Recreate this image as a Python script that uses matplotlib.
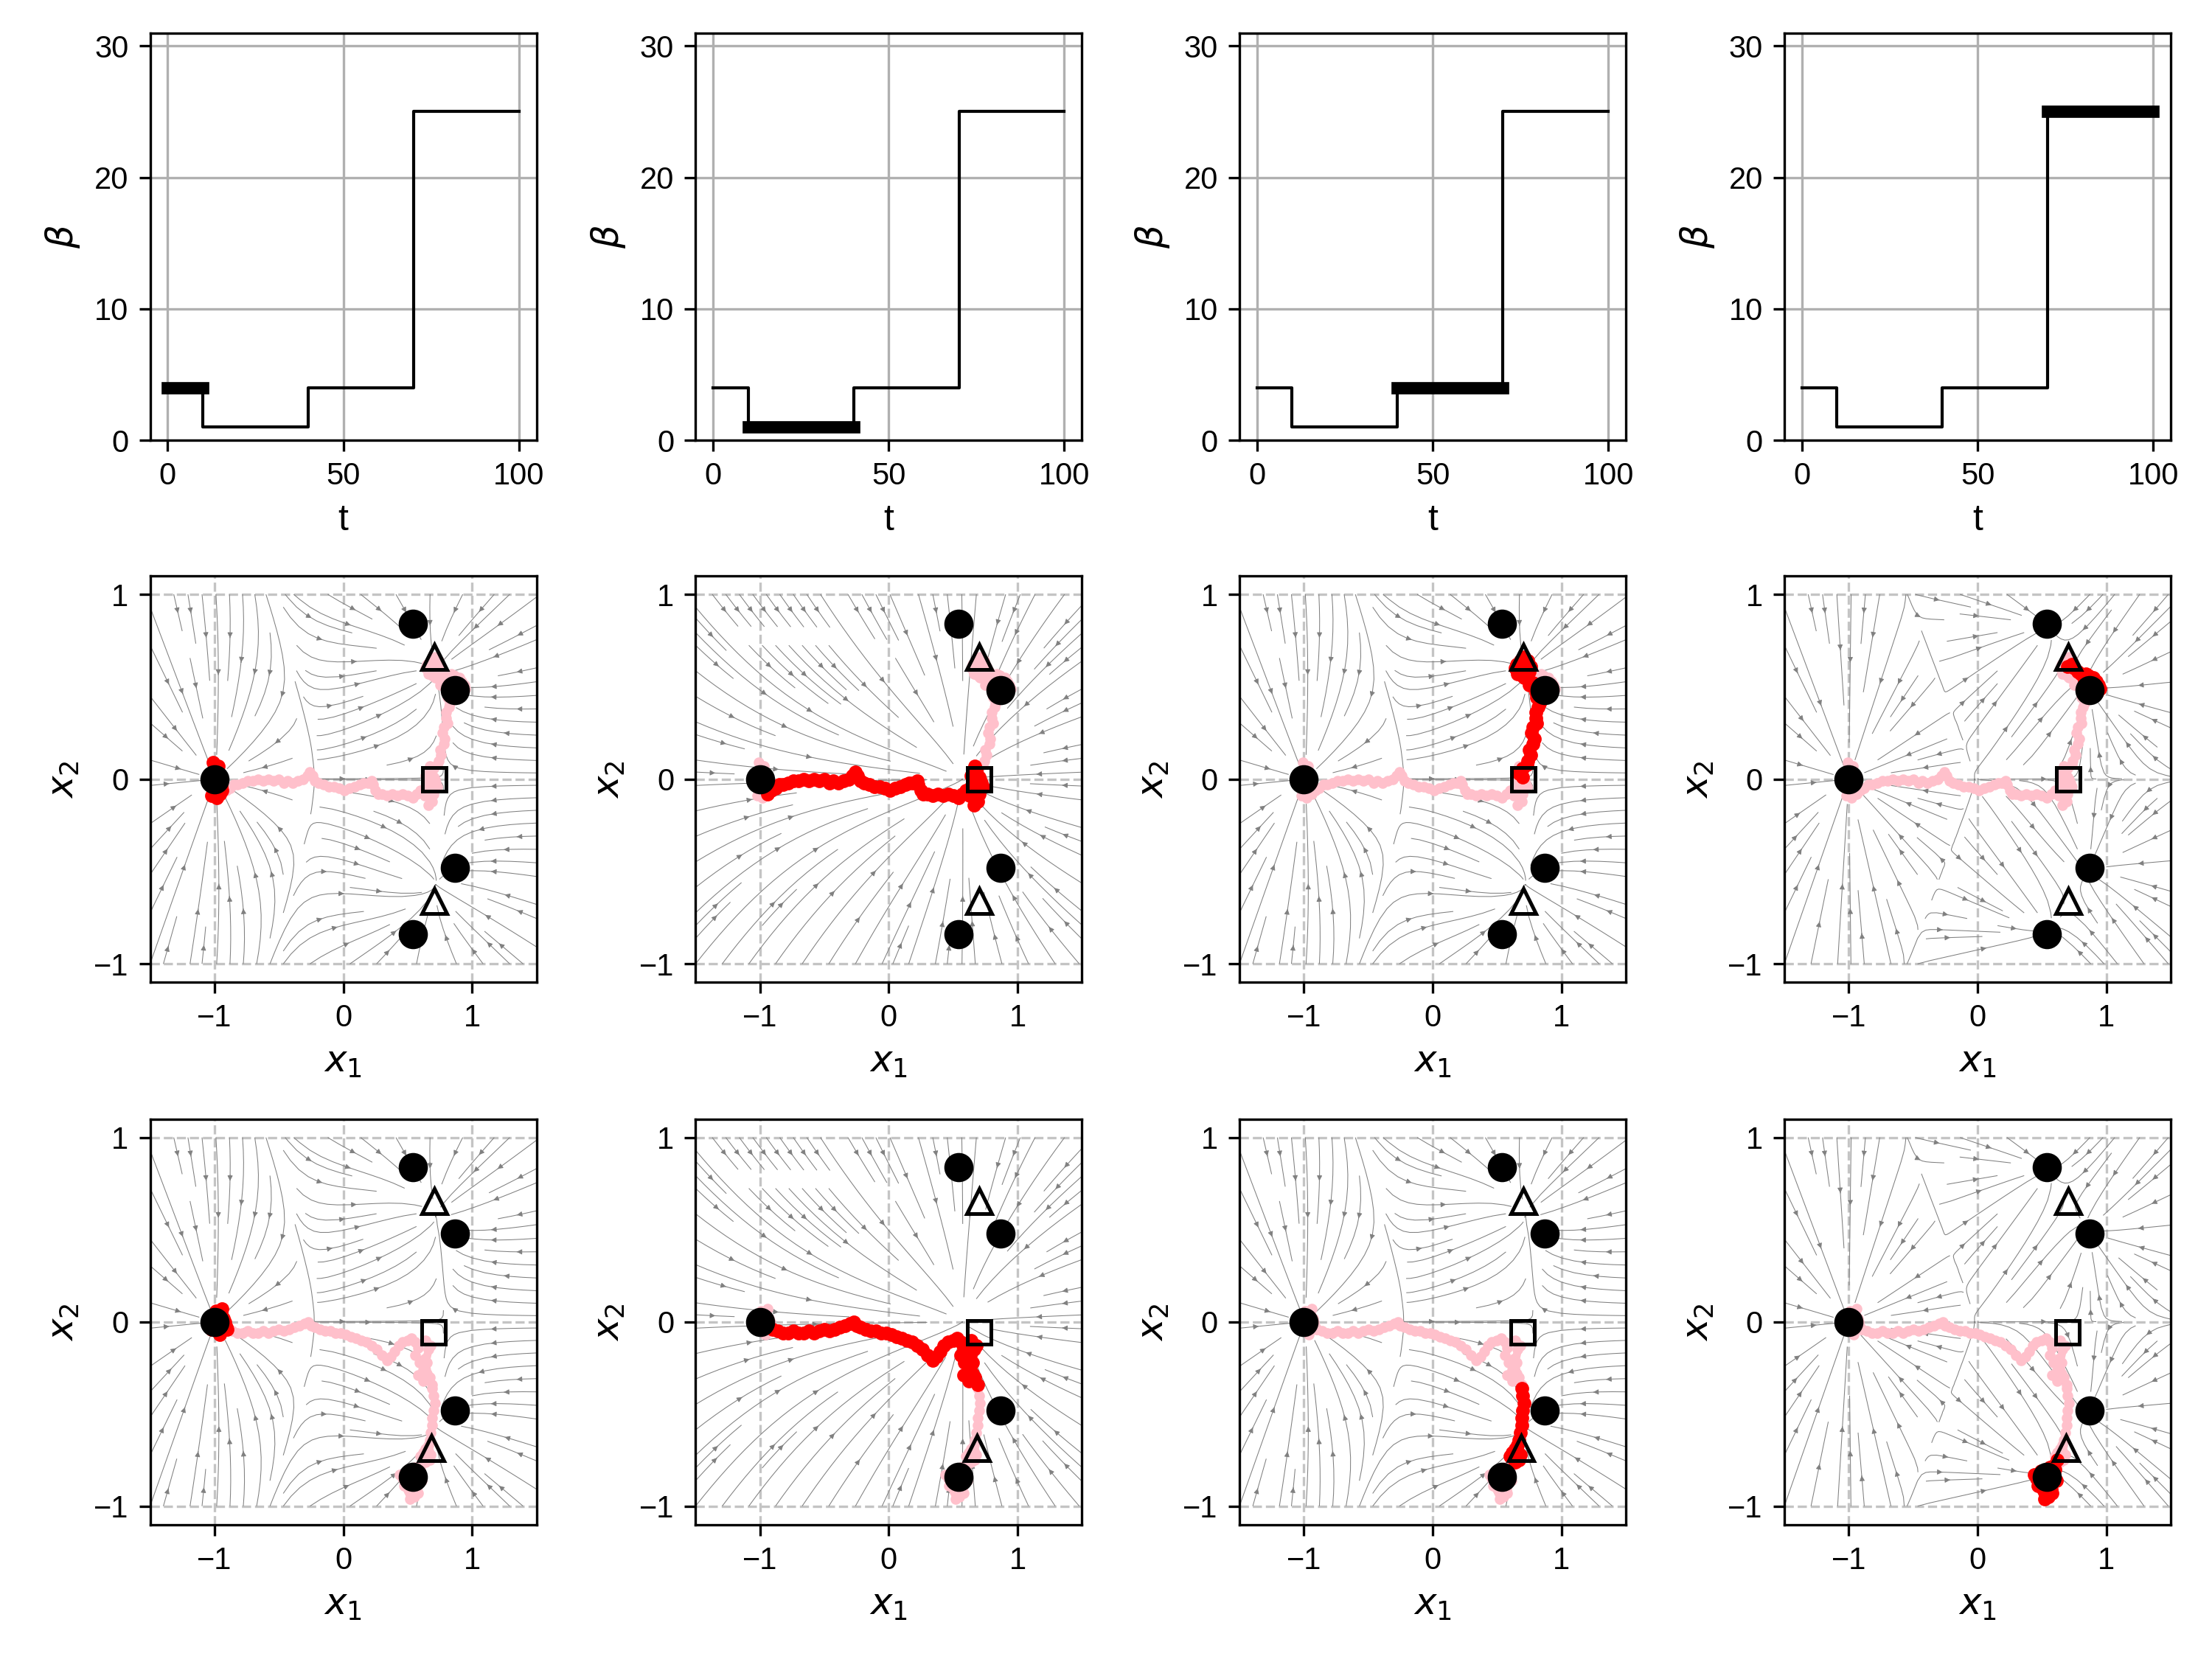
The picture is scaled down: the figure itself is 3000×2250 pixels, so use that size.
import numpy as np
import matplotlib
matplotlib.use("Agg")
import matplotlib.pyplot as plt

plt.rcParams['font.family'] = ['Liberation Sans', 'DejaVu Sans']
plt.rcParams['mathtext.fontset'] = 'dejavusans'
plt.rcParams['font.size'] = 10

# beta schedule
t_edges = [0, 10, 40, 70, 100]
beta_vals = [4, 1, 4, 25]

# stored patterns (circles) and saddle markers
pat_x = [-1.0, 0.54, 0.87, 0.87, 0.54]
pat_y = [0.0, 0.84, 0.48, -0.48, -0.84]
tri_mid_x = [0.705, 0.705]
tri_mid_y = [0.66, -0.66]
sq_mid = [0.705, 0.0]
tri_bot_x = [0.705, 0.685]
tri_bot_y = [0.655, -0.685]
sq_bot = [0.70, -0.057]

# trajectory, middle row, one block per beta window
mid_seg0 = np.array([
    (-1.00, 0.00), (-0.98, 0.04), (-1.02, -0.03), (-0.97, 0.07), (-1.01, 0.09),
    (-0.99, -0.06), (-0.96, -0.08), (-1.03, 0.02), (-0.98, -0.10), (-1.00, 0.05),
    (-0.95, -0.04), (-0.97, -0.07), (-1.02, -0.09), (-0.94, -0.06)])
mid_seg1 = np.array([
    (-0.94, -0.08), (-0.91, -0.06), (-0.88, -0.05), (-0.85, -0.03), (-0.82, -0.03),
    (-0.78, -0.02), (-0.74, -0.01), (-0.70, -0.01), (-0.66, 0.00), (-0.62, -0.01),
    (-0.58, 0.00), (-0.54, -0.01), (-0.50, 0.00), (-0.46, -0.02), (-0.43, -0.01),
    (-0.39, -0.02), (-0.35, -0.01), (-0.31, 0.00), (-0.28, 0.02), (-0.26, 0.04),
    (-0.24, 0.02), (-0.22, -0.01), (-0.19, -0.02), (-0.15, -0.03), (-0.11, -0.04),
    (-0.07, -0.04), (-0.03, -0.05), (0.01, -0.06), (0.05, -0.05), (0.09, -0.04),
    (0.13, -0.03), (0.16, -0.02), (0.19, -0.02), (0.22, -0.01), (0.23, -0.03),
    (0.25, -0.06), (0.27, -0.08), (0.30, -0.08), (0.34, -0.09), (0.38, -0.08),
    (0.42, -0.09), (0.46, -0.08), (0.50, -0.09), (0.54, -0.10), (0.57, -0.08),
    (0.60, -0.06), (0.63, -0.09), (0.66, -0.05), (0.64, 0.02), (0.68, 0.05),
    (0.71, 0.00), (0.66, -0.03), (0.62, -0.06), (0.69, -0.12), (0.73, -0.04),
    (0.67, 0.07), (0.65, 0.03), (0.70, -0.08), (0.72, -0.02), (0.66, -0.14),
    (0.68, 0.04), (0.64, -0.04), (0.70, 0.01)])
mid_seg2 = np.array([
    (0.70, 0.01), (0.67, 0.03), (0.70, 0.06), (0.73, 0.08), (0.74, 0.10),
    (0.76, 0.13), (0.75, 0.16), (0.78, 0.19), (0.79, 0.22), (0.77, 0.25),
    (0.78, 0.28), (0.81, 0.30), (0.80, 0.33), (0.80, 0.36), (0.82, 0.39),
    (0.83, 0.41), (0.81, 0.44), (0.80, 0.47), (0.79, 0.50), (0.78, 0.52),
    (0.75, 0.51), (0.74, 0.54), (0.72, 0.57), (0.70, 0.59), (0.67, 0.60),
    (0.65, 0.62), (0.68, 0.64), (0.71, 0.66), (0.74, 0.64), (0.76, 0.61),
    (0.73, 0.59), (0.69, 0.56), (0.66, 0.57), (0.64, 0.60), (0.68, 0.62),
    (0.72, 0.61), (0.75, 0.58), (0.71, 0.55), (0.68, 0.58)])
mid_seg3 = np.array([
    (0.70, 0.61), (0.73, 0.62), (0.75, 0.60), (0.78, 0.58), (0.80, 0.57),
    (0.82, 0.56), (0.84, 0.57), (0.86, 0.55), (0.88, 0.54), (0.90, 0.55),
    (0.92, 0.53), (0.94, 0.51), (0.95, 0.49), (0.93, 0.47), (0.90, 0.46),
    (0.88, 0.49), (0.85, 0.51), (0.83, 0.53), (0.86, 0.56), (0.89, 0.52),
    (0.92, 0.50), (0.90, 0.48), (0.87, 0.47), (0.85, 0.49), (0.88, 0.51)])

# trajectory, bottom row
bot_seg0 = np.array([
    (-1.00, 0.00), (-0.97, 0.03), (-0.95, -0.02), (-0.99, 0.06), (-1.02, -0.04),
    (-0.93, 0.02), (-0.91, -0.03), (-0.96, -0.07), (-1.01, 0.04), (-0.94, 0.07),
    (-0.98, -0.05), (-0.92, 0.00), (-1.02, 0.02), (-0.95, 0.05), (-0.90, -0.04)])
bot_seg1 = np.array([
    (-0.90, -0.04), (-0.86, -0.05), (-0.82, -0.06), (-0.78, -0.06), (-0.74, -0.05),
    (-0.70, -0.06), (-0.66, -0.06), (-0.62, -0.05), (-0.58, -0.06), (-0.54, -0.05),
    (-0.50, -0.04), (-0.46, -0.05), (-0.42, -0.04), (-0.38, -0.03), (-0.34, -0.02),
    (-0.30, -0.01), (-0.27, 0.00), (-0.25, -0.02), (-0.22, -0.03), (-0.18, -0.04),
    (-0.14, -0.05), (-0.10, -0.05), (-0.06, -0.06), (-0.02, -0.06), (0.02, -0.07),
    (0.06, -0.08), (0.10, -0.09), (0.14, -0.10), (0.18, -0.11), (0.22, -0.13),
    (0.26, -0.15), (0.30, -0.18), (0.34, -0.21), (0.37, -0.19), (0.40, -0.16),
    (0.43, -0.13), (0.46, -0.11), (0.50, -0.10), (0.53, -0.09), (0.56, -0.11),
    (0.58, -0.14), (0.56, -0.18), (0.59, -0.22), (0.62, -0.26), (0.58, -0.29),
    (0.62, -0.32), (0.65, -0.28), (0.63, -0.20), (0.66, -0.15), (0.64, -0.10),
    (0.68, -0.13), (0.65, -0.22), (0.67, -0.30), (0.69, -0.34)])
bot_seg2 = np.array([
    (0.69, -0.36), (0.70, -0.40), (0.71, -0.44), (0.70, -0.48), (0.69, -0.52),
    (0.69, -0.56), (0.68, -0.60), (0.67, -0.64), (0.66, -0.67), (0.64, -0.69),
    (0.62, -0.71), (0.65, -0.73), (0.68, -0.72), (0.66, -0.70), (0.63, -0.74),
    (0.60, -0.73), (0.64, -0.76), (0.67, -0.75), (0.65, -0.71)])
bot_seg3 = np.array([
    (0.62, -0.75), (0.59, -0.78), (0.56, -0.79), (0.53, -0.80), (0.50, -0.83),
    (0.48, -0.85), (0.51, -0.87), (0.54, -0.86), (0.57, -0.84), (0.59, -0.82),
    (0.56, -0.89), (0.53, -0.92), (0.55, -0.95), (0.57, -0.91), (0.52, -0.84),
    (0.49, -0.81), (0.44, -0.83), (0.46, -0.85), (0.50, -0.88), (0.58, -0.87),
    (0.60, -0.80), (0.47, -0.89), (0.52, -0.96), (0.58, -0.93), (0.61, -0.86),
    (0.55, -0.82)])

rows = [
    ([mid_seg0, mid_seg1, mid_seg2, mid_seg3], tri_mid_x, tri_mid_y, sq_mid),
    ([bot_seg0, bot_seg1, bot_seg2, bot_seg3], tri_bot_x, tri_bot_y, sq_bot),
]

# Hopfield flow field: X softmax(beta X^T x) - x
P = np.array([pat_x, pat_y])
gx = np.linspace(-1.5, 1.5, 200)
gy = np.linspace(-1.0, 1.0, 200)
GX, GY = np.meshgrid(gx, gy)


def flow(beta):
    s = beta * (P[0][:, None, None] * GX + P[1][:, None, None] * GY)
    s = s - s.max(axis=0)
    w = np.exp(s)
    w = w / w.sum(axis=0)
    u = (w * P[0][:, None, None]).sum(axis=0) - GX
    v = (w * P[1][:, None, None]).sum(axis=0) - GY
    return u, v


fig = plt.figure(figsize=(10, 7.5), dpi=300)
W, H = 3000.0, 2250.0
col_left = [203.5, 943.3, 1681.0, 2420.0]
ax_w = 524.0
row_top = [44.5, 781.0, 1517.7]
row_h = [552.8, 551.3, 550.0]


def rect(c, r):
    return [col_left[c] / W, 1 - (row_top[r] + row_h[r]) / H, ax_w / W, row_h[r] / H]


step_x = t_edges
step_y = beta_vals + [beta_vals[-1]]

for c in range(4):
    ax = fig.add_axes(rect(c, 0))
    ax.step(step_x, step_y, where='post', color='k', lw=1)
    ax.plot([t_edges[c], t_edges[c + 1]], [beta_vals[c]] * 2, color='k', lw=4)
    ax.set_ylim(0, 31)
    ax.set_xlim(-5, 105)
    ax.set_xticks([0, 50, 100])
    ax.set_yticks([0, 10, 20, 30])
    ax.grid(True)
    ax.set_axisbelow(True)
    ax.set_xlabel('t', fontsize=12)
    ax.set_ylabel(r'$\beta$', fontsize=12)

    u, v = flow(beta_vals[c])
    for r, (segs, tx, ty, sq) in enumerate(rows):
        ax = fig.add_axes(rect(c, r + 1))
        ax.streamplot(GX, GY, u, v, color='gray', linewidth=0.25,
                      arrowsize=0.35, density=1.0, zorder=1)
        full = np.vstack(segs)
        ax.plot(full[:, 0], full[:, 1], color='pink', lw=1.8, marker='o',
                ms=2.5, zorder=3)
        ax.plot(segs[c][:, 0], segs[c][:, 1], color='red', lw=2.4, marker='o',
                ms=3.5, zorder=4)
        ax.plot(pat_x, pat_y, 'o', color='k', ms=8.5, zorder=6)
        ax.plot(tx, ty, '^', mfc='none', mec='k', mew=1.2, ms=8, zorder=6)
        ax.plot([sq[0]], [sq[1]], 's', mfc='none', mec='k', mew=1.2, ms=7.5, zorder=6)
        ax.set_xlim(-1.5, 1.5)
        ax.set_ylim(-1.1, 1.1)
        ax.set_xticks([-1, 0, 1])
        ax.set_yticks([-1, 0, 1])
        ax.grid(True, ls='--', color='#c4c4c4', lw=0.8)
        ax.set_axisbelow(True)
        ax.set_xlabel(r'$x_1$', fontsize=12)
        ax.set_ylabel(r'$x_2$', fontsize=12)

fig.savefig('out.png', dpi=300)
